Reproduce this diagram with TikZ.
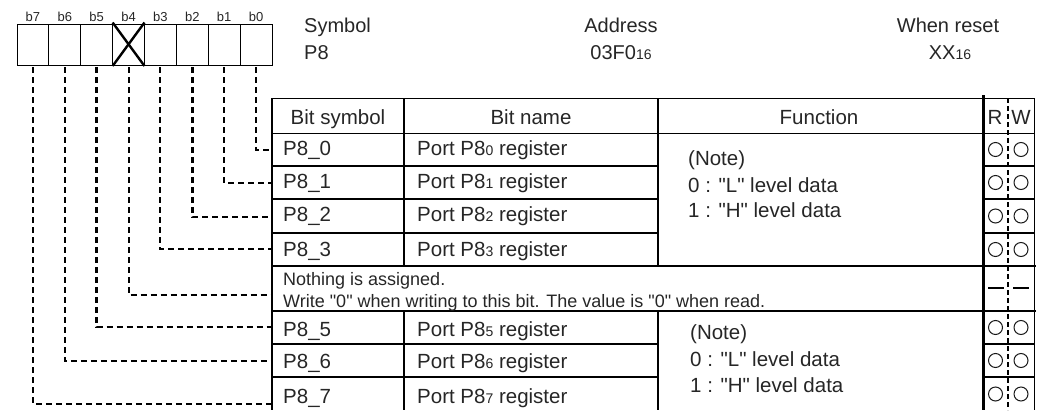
\documentclass[tikz,border=0pt]{standalone}
\usepackage{fontspec}
\setmainfont{Liberation Sans}
\newfontfamily\lib{Liberation Sans}
\newcommand\smdig[1]{{\fontsize{14}{14}\selectfont #1}}
\begin{document}
\begin{tikzpicture}[x=1pt,y=-1pt,
  cell/.style={draw=black, line width=1pt, minimum width=31.875pt, minimum height=41pt, inner sep=0pt, outer sep=0pt},
  blabel/.style={font=\lib\fontsize{13}{13}\selectfont, text=black!85, inner sep=0pt, anchor=base},
  hdr/.style={font=\lib\fontsize{20}{24}\selectfont, text=black!85, inner sep=0pt},
  tbl/.style={font=\lib\fontsize{20.5}{24}\selectfont, text=black!85, inner sep=0pt, anchor=base west},
  tblc/.style={font=\lib\fontsize{20.5}{24}\selectfont, text=black!85, inner sep=0pt, anchor=base},
  small/.style={font=\lib\fontsize{18}{22}\selectfont, text=black!85, inner sep=0pt, anchor=base west},
  conn/.style={dash pattern=on 6pt off 4pt, line width=2pt, black},
  connb/.style={dash pattern=on 6pt off 4pt, line width=2.6pt, black},
  thin/.style={line width=1pt},
  mid/.style={line width=1.5pt},
  thick/.style={line width=2.2pt},
  rw/.style={line width=1pt, black!90},
]
\useasboundingbox (0,0) rectangle (1042,410);
% ---- bit box ----
\foreach \i/\b in {0/7,1/6,2/5,3/4,4/3,5/2,6/1,7/0}{
  \node[cell] (c\b) at ({17+31.875*\i+15.9375},44.5) {};
  \node[blabel] (bl\b) at ({17+31.875*\i+15.9375},21) {b\b};
}
\draw[line width=2.4pt] (c4.north west) ++(0,-1.5) -- ([yshift=-1pt]c4.south east);
\draw[line width=2.4pt] (c4.north east) ++(0,-1.5) -- ([yshift=-1pt]c4.south west);
% ---- header texts ----
\node[hdr, anchor=base west] (sym) at (304,32) {Symbol};
\node[hdr, anchor=base west] (symv) at (304,59) {P8};
\node[hdr, anchor=base] (adr) at (621,32) {Address};
\node[hdr, anchor=base] (adrv) at (621,59) {03F0\smdig{16}};
\node[hdr, anchor=base] (rst) at (948,32) {When reset};
\node[hdr, anchor=base] (rstv) at (950,59) {XX\smdig{16}};
% ---- table lines ----
\draw[thin] (272,98) -- (1034,98);
\draw[thin] (272,133) -- (1034,133);
\draw[thick] (272,166) -- (658,166) (983,166) -- (1034,166);
\draw[mid] (272,199) -- (658,199) (983,199) -- (1034,199);
\draw[thick] (272,233) -- (658,233) (983,233) -- (1034,233);
\draw[mid] (272,266) -- (1036,266);
\draw[mid] (272,311) -- (1036,311);
\draw[mid] (272,344) -- (658,344) (983,344) -- (1034,344);
\draw[line width=2.8pt] (272,377) -- (658,377) (983,377) -- (1034,377);
\draw[mid] (272,98) -- (272,410);
\draw[line width=1.8pt] (404,98) -- (404,266) (404,311) -- (404,410);
\draw[line width=1.8pt] (658,98) -- (658,266) (658,311) -- (658,410);
\draw[line width=3pt] (983,95) -- (983,410);
\draw[thin] (1034,98) -- (1034,410);
\draw[line width=1.6pt, dash pattern=on 5pt off 3pt] (1008,98) -- (1008,410);
% ---- header row ----
\node[tblc] (hbs) at (338,124) {Bit symbol};
\node[tblc] (hbn) at (531,124) {Bit name};
\node[tblc] (hfn) at (819,124) {Function};
\node[tblc] (hr) at (995,124) {R};
\node[tblc] (hw) at (1021,124) {W};
% ---- rows ----
\node[tbl] (s0) at (283,155) {P8\_0};
\node[tbl] (n0) at (417,155) {Port P8\smdig{0} register};
\node[tbl] (s1) at (283,188) {P8\_1};
\node[tbl] (n1) at (417,188) {Port P8\smdig{1} register};
\node[tbl] (s2) at (283,221) {P8\_2};
\node[tbl] (n2) at (417,221) {Port P8\smdig{2} register};
\node[tbl] (s3) at (283,256) {P8\_3};
\node[tbl] (n3) at (417,256) {Port P8\smdig{3} register};
\node[small] (na1) at (283,285) {Nothing is assigned.};
\node[small] (na2) at (283,307) {Write "0" when writing to this bit. The value is "0" when read.};
\node[tbl] (s5) at (283,336) {P8\_5};
\node[tbl] (n5) at (417,336) {Port P8\smdig{5} register};
\node[tbl] (s6) at (283,368) {P8\_6};
\node[tbl] (n6) at (417,368) {Port P8\smdig{6} register};
\node[tbl] (s7) at (283,403) {P8\_7};
\node[tbl] (n7) at (417,403) {Port P8\smdig{7} register};
% ---- function notes ----
\node[tbl] (fa1) at (688,165) {(Note)};
\node[tbl] (fa2) at (688,192) {0 : "L" level data};
\node[tbl] (fa3) at (688,217) {1 : "H" level data};
\node[tbl] (fb1) at (690,339) {(Note)};
\node[tbl] (fb2) at (690,366) {0 : "L" level data};
\node[tbl] (fb3) at (690,392) {1 : "H" level data};
% ---- R/W marks ----
\foreach \y in {149.5,182.5,216,249.5,327.5,360.5,394}{
  \draw[rw] (995.5,\y) circle (7pt);
  \draw[rw] (1021,\y) circle (7pt);
}
\draw[line width=1.6pt] (988,288) -- (1004,288) (1013,288) -- (1029,288);
% ---- connectors ----
\coordinate (e0) at (272,150);
\coordinate (e1) at (272,183);
\coordinate (e2) at (272,217);
\coordinate (e3) at (272,249);
\coordinate (e4) at (272,295);
\coordinate (e5) at (272,327);
\coordinate (e6) at (272,361);
\coordinate (e7) at (272,404);
\draw[conn] ([yshift=-2pt]c0.south) |- (e0);
\draw[connb] ([yshift=-2pt]c1.south) |- (e1);
\draw[connb] ([yshift=-2pt]c2.south) |- (e2);
\draw[conn] ([yshift=-2pt]c3.south) |- (e3);
\draw[conn] ([yshift=-2pt]c4.south) |- (e4);
\draw[connb] ([yshift=-2pt]c5.south) |- (e5);
\draw[conn] ([yshift=-2pt]c6.south) |- (e6);
\draw[conn] ([yshift=-2pt]c7.south) |- (e7);
\end{tikzpicture}
\end{document}
